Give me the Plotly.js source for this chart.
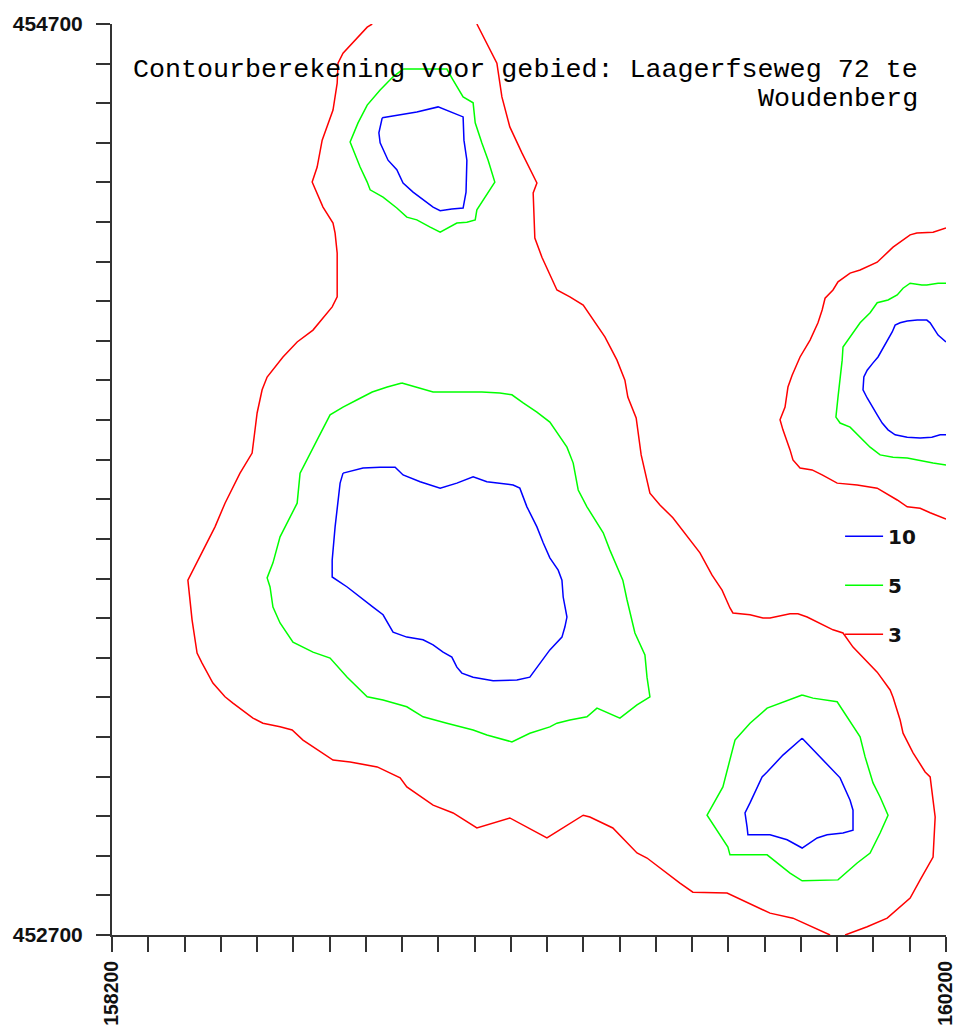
<!DOCTYPE html>
<html>
<head>
<meta charset="utf-8">
<script src="https://cdn.plot.ly/plotly-3.0.1.min.js"></script>
<style>html,body{margin:0;padding:0;background:#fff}#chart{width:955px;height:1030px}</style>
</head>
<body>
<div id="chart"></div>
<script>
// Contour levels and colours
const levels = ['10', '5', '3'];
const levelColors = ['#0000ff', '#00ff00', '#ff0000'];

// Axis extents (RD coordinates)
const xExtent = [158200, 160200];
const yExtent = [452700, 454700];
const xTickLabels = ['158200', '160200'];
const yTickLabels = ['452700', '454700'];
const tickIntervals = 23;

// ---- level 3 (red) ----
const red1X = [158824,158812,158754,158742,158740,158730,158704,158692,158680,158706,158730,158735,158740,158740,158728,158682,158644,158610,158572,158560,158548,158536,158507,158471,158447,158411,158382,158392,158404,158416,158442,158471,158490,158538,158562,158603,158632,158658,158716,158730,158771,158836,158891,158907,158970,159018,159075,159154,159243,159330,159346,159401,159459,159483,159562,159593,159675,159778,159833,159915,159922];
const red1Y = [454700,454693,454636,454614,454570,454511,454445,454386,454353,454298,454263,454241,454197,454101,454079,454028,454002,453969,453925,453897,453846,453758,453714,453648,453596,453530,453479,453392,453319,453297,453253,453223,453209,453176,453165,453157,453150,453128,453091,453084,453080,453069,453045,453025,452985,452968,452935,452957,452913,452963,452959,452935,452880,452869,452814,452794,452792,452748,452737,452704,452700];
const red2X = [159958,160011,160059,160114,160138,160169,160174,160162,160150,160121,160097,160090,160073,160066,160035,159977,159953,159929,159867,159845,159826,159778,159761,159730,159689,159682,159663,159639,159610,159545,159514,159490,159469,159457,159437,159430,159411,159382,159330,159298,159267,159231,159214,159210,159219,159183,159154,159135,159123,159075];
const red2Y = [452700,452718,452737,452781,452821,452871,452959,453047,453058,453100,453143,453172,453222,453238,453277,453332,453363,453370,453398,453405,453405,453396,453396,453403,453407,453418,453457,453490,453539,453616,453644,453670,453754,453835,453881,453918,453962,454013,454083,454101,454116,454188,454230,454329,454351,454417,454474,454540,454614,454700];
const red3X = [160200,160169,160130,160114,160073,160035,159994,159970,159941,159929,159910,159903,159893,159874,159850,159831,159821,159814,159802,159809,159826,159833,159850,159879,159903,159939,159987,160035,160083,160107,160138,160162,160200];
const red3Y = [454252,454243,454241,454237,454210,454177,454160,454153,454134,454116,454098,454072,454044,454006,453969,453929,453903,453859,453831,453809,453765,453743,453725,453721,453710,453692,453688,453681,453655,453640,453637,453627,453613];

// ---- level 5 (green) ----
const green1X = [158898,159003,159018,159042,159066,159071,159087,159102,159118,159094,159075,159071,159051,159027,158987,158963,158931,158907,158883,158850,158819,158812,158795,158771,158790,158812,158843,158874,158898];
const green1Y = [454601,454601,454577,454540,454527,454483,454439,454401,454353,454320,454292,454270,454265,454263,454243,454254,454270,454276,454296,454320,454336,454353,454386,454441,454483,454522,454555,454584,454601];
const green2X = [158895,158931,158970,159018,159087,159130,159159,159186,159219,159250,159267,159291,159306,159318,159339,159378,159394,159425,159435,159454,159478,159483,159490,159459,159418,159363,159339,159298,159267,159250,159202,159159,159099,159066,159003,158946,158907,158850,158812,158764,158723,158682,158634,158603,158586,158579,158572,158586,158603,158620,158644,158651,158668,158692,158723,158754,158788,158824,158860,158895];
const green2Y = [453912,453903,453892,453892,453892,453890,453886,453868,453848,453826,453802,453771,453736,453677,453640,453583,453545,453479,453436,453363,453315,453266,453223,453205,453176,453198,453179,453172,453165,453157,453143,453124,453139,453150,453165,453179,453201,453216,453223,453266,453308,453321,453343,453385,453420,453464,453484,453517,453574,453605,453648,453714,453743,453787,453842,453859,453875,453892,453903,453912];
const green3X = [159855,159881,159939,159963,159994,160006,160025,160042,160061,160042,160018,159987,159941,159855,159826,159771,159682,159677,159627,159665,159694,159701,159730,159771,159802,159855];
const green3Y = [453227,453220,453212,453179,453135,453091,453034,453003,452963,452924,452880,452858,452821,452819,452836,452876,452876,452893,452963,453025,453128,453135,453165,453198,453209,453227];
const green4X = [160200,160181,160154,160142,160114,160097,160083,160061,160035,160018,159994,159982,159970,159953,159951,159946,159941,159936,159946,159970,159994,160018,160042,160073,160107,160138,160169,160200];
const green4Y = [454131,454131,454127,454127,454131,454120,454105,454094,454088,454066,454044,454028,454011,453991,453962,453925,453881,453837,453824,453815,453793,453771,453754,453749,453747,453741,453736,453732];

// ---- level 10 (blue) ----
const blue1X = [158848,158883,158931,158982,159011,159042,159044,159051,159049,159042,159015,158987,158970,158946,158922,158898,158883,158862,158843,158840,158848];
const blue1Y = [454494,454500,454507,454518,454507,454496,454445,454401,454331,454296,454294,454290,454298,454314,454331,454351,454380,454401,454439,454461,454494];
const blue2X = [158754,158802,158843,158879,158898,158939,158987,159027,159066,159099,159162,159178,159195,159219,159234,159250,159270,159279,159282,159291,159286,159279,159250,159226,159202,159171,159114,159066,159039,159027,159015,158994,158970,158946,158907,158874,158862,158850,158826,158795,158764,158728,158728,158735,158740,158747,158754];
const blue2Y = [453714,453725,453727,453727,453710,453695,453681,453692,453706,453695,453688,453681,453640,453596,453561,453528,453501,453479,453442,453398,453376,453354,453326,453297,453266,453260,453258,453266,453275,453288,453310,453321,453337,453348,453354,453365,453385,453403,453420,453442,453464,453486,453523,453596,453640,453692,453714];
const blue3X = [159855,159898,159946,159970,159977,159977,159953,159915,159891,159855,159819,159778,159725,159723,159718,159730,159759,159771,159809,159855];
const blue3Y = [453132,453091,453045,452996,452974,452930,452924,452920,452913,452891,452909,452920,452920,452937,452968,452990,453047,453058,453095,453132];
const blue4X = [160200,160181,160162,160154,160131,160107,160090,160078,160071,160054,160037,160025,160011,160003,160001,160011,160023,160035,160047,160061,160078,160107,160138,160166,160186,160200];
const blue4Y = [454002,454017,454044,454050,454050,454048,454044,454039,454024,453995,453969,453956,453940,453925,453897,453879,453859,453842,453824,453809,453798,453793,453791,453793,453798,453798];

const titleLines = ['Contourberekening voor gebied: Laagerfseweg 72 te', 'Woudenberg'];

function join(parts) {
  const out = [];
  parts.forEach((p, i) => { if (i) out.push(null); p.forEach(v => out.push(v)); });
  return out;
}

const seriesX = [join([blue1X, blue2X, blue3X, blue4X]), join([green1X, green2X, green3X, green4X]), join([red1X, red2X, red3X])];
const seriesY = [join([blue1Y, blue2Y, blue3Y, blue4Y]), join([green1Y, green2Y, green3Y, green4Y]), join([red1Y, red2Y, red3Y])];

const traces = levels.map((lv, i) => ({
  type: 'scatter', mode: 'lines', name: lv,
  x: seriesX[i], y: seriesY[i], connectgaps: false,
  line: {color: levelColors[i], width: 1.5},
  legendgroup: 'g' + i, hoverinfo: 'skip'
}));

const stepX = (xExtent[1] - xExtent[0]) / tickIntervals;
const stepY = (yExtent[1] - yExtent[0]) / tickIntervals;
const xTickVals = [], xTickText = [], yTickVals = [], yTickText = [];
for (let i = 0; i <= tickIntervals; i++) {
  const last = i === tickIntervals;
  xTickVals.push(last ? xExtent[1] : xExtent[0] + i * stepX);
  yTickVals.push(last ? yExtent[1] : yExtent[0] + i * stepY);
  xTickText.push(i === 0 ? xTickLabels[0] : (last ? xTickLabels[1] : ''));
  yTickText.push(i === 0 ? yTickLabels[0] : (last ? yTickLabels[1] : ''));
}

const axisCommon = {
  showgrid: false, zeroline: false, showline: true, linecolor: '#333', linewidth: 2,
  ticks: 'outside', tickcolor: '#333', tickwidth: 2, tickmode: 'array',
  ticklabeloverflow: 'allow', fixedrange: true
};

const layout = {
  width: 955, height: 1030,
  margin: {l: 112, r: 9, t: 24, b: 95, pad: 0},
  paper_bgcolor: '#fff', plot_bgcolor: '#fff',
  showlegend: true,
  legend: {
    x: 0.873, y: 0.459, xanchor: 'left', yanchor: 'top',
    font: {family: 'DejaVu Sans, sans-serif', size: 20, color: '#111', weight: 'bold'},
    bgcolor: 'rgba(0,0,0,0)', borderwidth: 0, tracegroupgap: 20, traceorder: 'grouped',
    itemwidth: 38
  },
  xaxis: Object.assign({}, axisCommon, {
    range: xExtent, tickvals: xTickVals, ticktext: xTickText, ticklen: 15,
    tickangle: -90, ticklabelstandoff: 1,
    tickfont: {family: 'Liberation Sans, Arial, sans-serif', size: 19.5, color: '#111', weight: 'bold'}
  }),
  yaxis: Object.assign({}, axisCommon, {
    range: yExtent, tickvals: yTickVals, ticktext: yTickText, ticklen: 14,
    ticklabelstandoff: 9,
    tickfont: {family: 'Liberation Sans, Arial, sans-serif', size: 21, color: '#111', weight: 'bold'}
  }),
  annotations: titleLines.map((t, i) => ({
    text: t, xref: 'paper', yref: 'paper', x: 0.9688, y: i === 0 ? 0.9495 : 0.9177,
    xanchor: 'right', yanchor: 'middle', showarrow: false,
    font: {family: 'Liberation Mono, Courier New, monospace', size: 26.7, color: '#000'}
  }))
};

Plotly.newPlot('chart', traces, layout, {staticPlot: true, displayModeBar: false});
</script>
</body>
</html>
